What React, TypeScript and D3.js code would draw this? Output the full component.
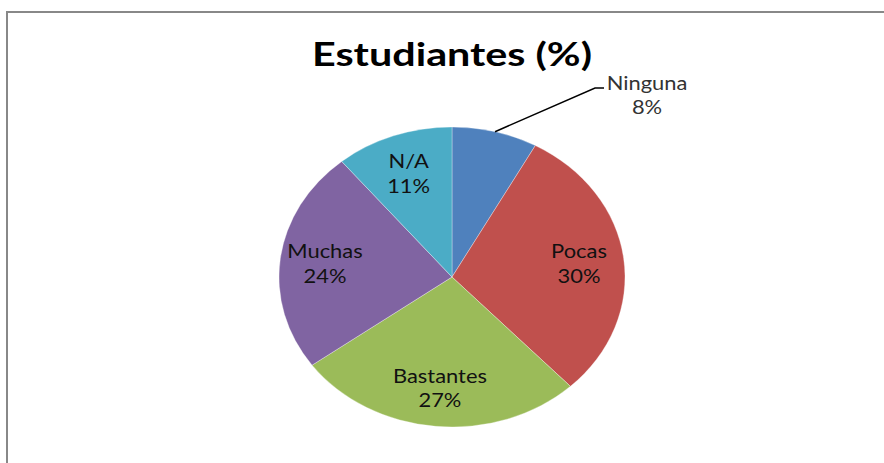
import React from "react";
import * as d3 from "d3";

const categories = ["Ninguna", "Pocas", "Bastantes", "Muchas", "N/A"];
const values = [8, 30, 27, 24, 11];
const colors = ["#4F81BD", "#C0504D", "#9BBB59", "#8064A2", "#4BACC6"];
const title = "Estudiantes (%)";

const W = 884;
const H = 463;
const cx = 452;
const cy = 277;
const R = 150;
const SX = 173 / 150;
const FONT = "Lato, 'Open Sans', sans-serif";

export default function App() {
  const pie = d3.pie<number>().sort(null).value((d) => d)(values);
  const arc = d3.arc<d3.PieArcDatum<number>>().innerRadius(0).outerRadius(R);
  const labelArc = d3.arc<d3.PieArcDatum<number>>().innerRadius(R * 0.74).outerRadius(R * 0.74);
  const total = d3.sum(values);
  const fmt = (v: number) => `${Math.round((v / total) * 100)}%`;

  return (
    <svg
      width={W}
      height={H}
      style={{ position: "absolute", left: 0, top: 0, background: "#fff" }}
    >
      <rect x={0} y={0} width={W} height={H} fill="#fff" />
      <path d={`M7,${H} L7,12 L${W},12`} fill="none" stroke="#888" strokeWidth={2} />
      <text
        transform={`translate(${cx},66) scale(${SX},1)`}
        textAnchor="middle"
        fontFamily={FONT}
        fontWeight="bold"
        fontSize={32}
        fill="#000"
        textLength={280 / SX}
        lengthAdjust="spacingAndGlyphs"
      >
        {title}
      </text>
      <g transform={`translate(${cx},${cy}) scale(${SX},1)`}>
        {pie.map((p, i) => (
          <path key={i} d={arc(p) || ""} fill={colors[i]} stroke="#fff" strokeWidth={0.3} />
        ))}
      </g>
      {pie.map((p, i) => {
        if (i === 0) {
          const a = (p.startAngle + p.endAngle) / 2;
          const ax = cx + Math.sin(a) * R * SX;
          const ay = cy - Math.cos(a) * R;
          const bx = ax + 100;
          const by = 88;
          return (
            <g key={i}>
              <polyline
                points={`${ax},${ay} ${bx},${by} ${bx + 9},${by}`}
                fill="none"
                stroke="#000"
                strokeWidth={1.5}
              />
              <text
                transform={`translate(${bx + 52},90) scale(${SX},1)`}
                textAnchor="middle"
                fontFamily={FONT}
                fontSize={19}
                fill="#333"
              >
                <tspan x={0} y={0}>{categories[i]}</tspan>
                <tspan x={0} y={24}>{fmt(values[i])}</tspan>
              </text>
            </g>
          );
        }
        const [lx, ly] = labelArc.centroid(p);
        const x = cx + lx * SX;
        const y = cy + ly;
        return (
          <text
            key={i}
            transform={`translate(${x},${y}) scale(${SX},1)`}
            textAnchor="middle"
            fontFamily={FONT}
            fontSize={19}
            fill="#111"
          >
            <tspan x={0} y={-5}>{categories[i]}</tspan>
            <tspan x={0} y={20}>{fmt(values[i])}</tspan>
          </text>
        );
      })}
    </svg>
  );
}
